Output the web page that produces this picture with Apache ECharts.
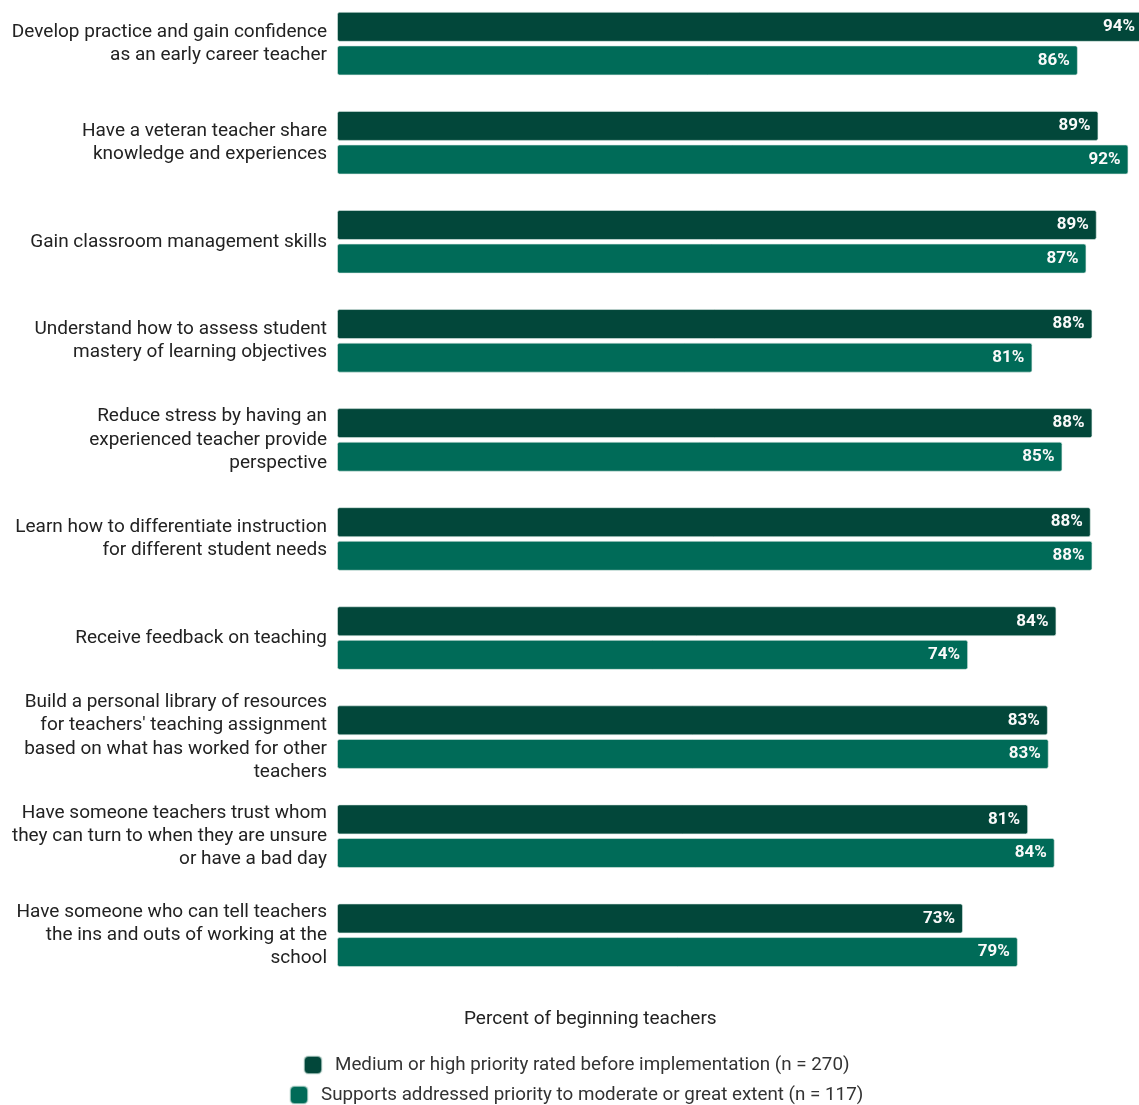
<!DOCTYPE html>
<html><head><meta charset="utf-8">
<script src="https://cdn.jsdelivr.net/npm/echarts@6/dist/echarts.min.js"></script>
<style>html,body{margin:0;padding:0;background:#fff;overflow:hidden;}#c{width:1139px;height:1105px;}</style>
</head><body><div id="c"></div>
<script>
const categories = [
  "Develop practice and gain confidence\nas an early career teacher",
  "Have a veteran teacher share\nknowledge and experiences",
  "Gain classroom management skills",
  "Understand how to assess student\nmastery of learning objectives",
  "Reduce stress by having an\nexperienced teacher provide\nperspective",
  "Learn how to differentiate instruction\nfor different student needs",
  "Receive feedback on teaching",
  "Build a personal library of resources\nfor teachers' teaching assignment\nbased on what has worked for other\nteachers",
  "Have someone teachers trust whom\nthey can turn to when they are unsure\nor have a bad day",
  "Have someone who can tell teachers\nthe ins and outs of working at the\nschool"
];
const seriesNames = [
  "Medium or high priority rated before implementation (n = 270)",
  "Supports addressed priority to moderate or great extent (n = 117)"
];
// values (labels show rounded percentages)
const beforeValues = [94.0, 88.8, 88.6, 88.1, 88.1, 87.9, 83.9, 82.9, 80.6, 73.0];
const addressedValues = [86.4, 92.3, 87.4, 81.1, 84.6, 88.1, 73.6, 83.0, 83.7, 79.4];
const axisTitle = "Percent of beginning teachers";

const colors = ["#02473a", "#006b58"];
const chart = echarts.init(document.getElementById('c'));
const labelCfg = {
  show: true, position: 'insideRight', distance: 8,
  color: '#fafafa', fontWeight: 'bold', fontSize: 17, fontFamily: 'Roboto',
  formatter: p => Math.round(p.value) + '%'
};
const itemStyle = c => ({ color: c, borderRadius: 2, borderColor: 'rgba(220,235,230,0.6)', borderWidth: 1 });
const legendText = { fontSize: 18.8, color: '#333', fontFamily: 'Roboto', padding: [0, 0, 0, 8] };
chart.setOption({
  animation: false,
  textStyle: { fontFamily: 'Roboto' },
  grid: { left: 337, width: 857.5, top: -5.9, height: 990.7, outerBoundsMode: 'none', containLabel: false },
  xAxis: { type: 'value', min: 0, max: 100, show: false },
  yAxis: {
    type: 'category', data: categories, inverse: true,
    axisLine: { show: false }, axisTick: { show: false },
    axisLabel: { fontSize: 19, color: '#222', lineHeight: 23.4, margin: 10, align: 'right',
      fontFamily: 'Roboto', padding: [4, 0, 0, 0] }
  },
  legend: [
    { data: [seriesNames[0]], top: 1055, left: 303, padding: 0, itemWidth: 18, itemHeight: 18,
      textStyle: legendText, icon: 'roundRect', selectedMode: false },
    { data: [seriesNames[1]], top: 1085, left: 289, padding: 0, itemWidth: 18, itemHeight: 18,
      textStyle: legendText, icon: 'roundRect', selectedMode: false }
  ],
  graphic: [{
    type: 'text', left: 464, top: 1010,
    style: { text: axisTitle, fontSize: 19, fill: '#222', fontFamily: 'Roboto' }
  }],
  series: [
    { name: seriesNames[0], type: 'bar', data: beforeValues, barWidth: 30, barGap: '12%', clip: false,
      itemStyle: itemStyle(colors[0]), label: labelCfg },
    { name: seriesNames[1], type: 'bar', data: addressedValues, barWidth: 30, barGap: '12%', clip: false,
      itemStyle: itemStyle(colors[1]), label: labelCfg }
  ]
});
</script></body></html>
